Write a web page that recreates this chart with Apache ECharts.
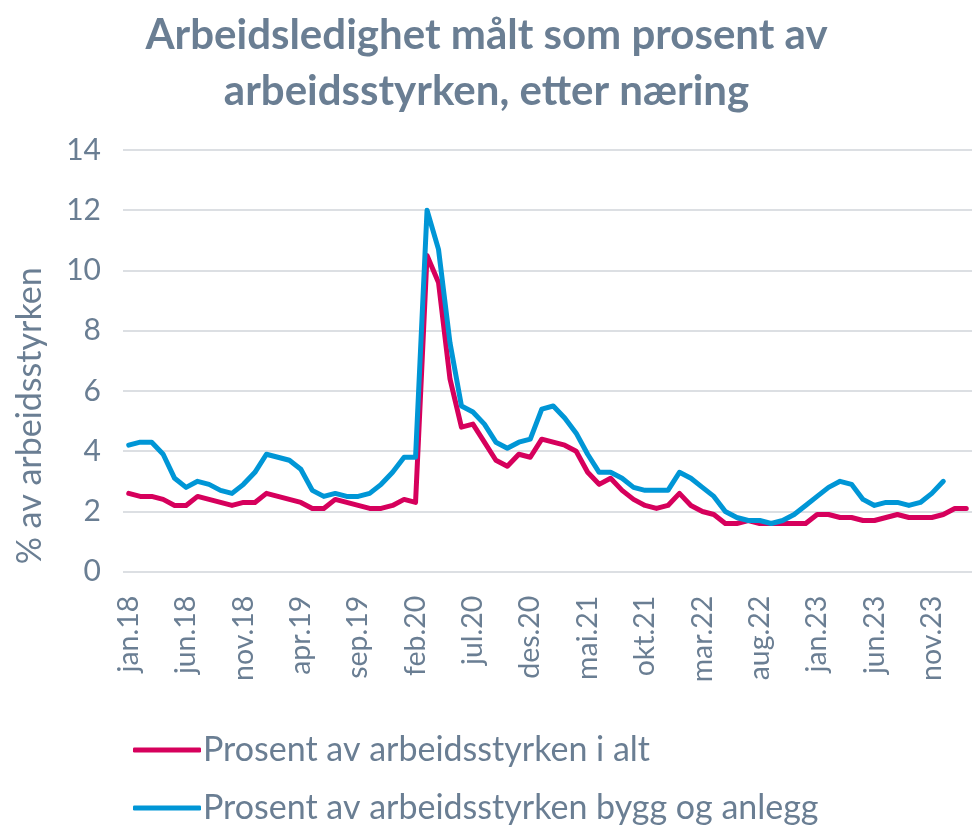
<!DOCTYPE html>
<html>
<head>
<meta charset="utf-8">
<script src="https://cdn.jsdelivr.net/npm/echarts@6/dist/echarts.min.js"></script>
<style>html,body{margin:0;padding:0;background:#fff;}#c{width:973px;height:830px;}</style>
</head>
<body>
<div id="c"></div>
<script>
const months = [
 'jan.18','feb.18','mar.18','apr.18','mai.18','jun.18','jul.18','aug.18','sep.18','okt.18','nov.18','des.18',
 'jan.19','feb.19','mar.19','apr.19','mai.19','jun.19','jul.19','aug.19','sep.19','okt.19','nov.19','des.19',
 'jan.20','feb.20','mar.20','apr.20','mai.20','jun.20','jul.20','aug.20','sep.20','okt.20','nov.20','des.20',
 'jan.21','feb.21','mar.21','apr.21','mai.21','jun.21','jul.21','aug.21','sep.21','okt.21','nov.21','des.21',
 'jan.22','feb.22','mar.22','apr.22','mai.22','jun.22','jul.22','aug.22','sep.22','okt.22','nov.22','des.22',
 'jan.23','feb.23','mar.23','apr.23','mai.23','jun.23','jul.23','aug.23','sep.23','okt.23','nov.23','des.23',
 'jan.24','feb.24'
];
const totalSeries = [
 2.6,2.5,2.5,2.4,2.2,2.2,2.5,2.4,2.3,2.2,2.3,2.3,
 2.6,2.5,2.4,2.3,2.1,2.1,2.4,2.3,2.2,2.1,2.1,2.2,
 2.4,2.3,10.5,9.6,6.4,4.8,4.9,4.3,3.7,3.5,3.9,3.8,
 4.4,4.3,4.2,4.0,3.3,2.9,3.1,2.7,2.4,2.2,2.1,2.2,
 2.6,2.2,2.0,1.9,1.6,1.6,1.7,1.6,1.6,1.6,1.6,1.6,
 1.9,1.9,1.8,1.8,1.7,1.7,1.8,1.9,1.8,1.8,1.8,1.9,
 2.1,2.1
];
const constructionSeries = [
 4.2,4.3,4.3,3.9,3.1,2.8,3.0,2.9,2.7,2.6,2.9,3.3,
 3.9,3.8,3.7,3.4,2.7,2.5,2.6,2.5,2.5,2.6,2.9,3.3,
 3.8,3.8,12.0,10.7,7.6,5.5,5.3,4.9,4.3,4.1,4.3,4.4,
 5.4,5.5,5.1,4.6,3.9,3.3,3.3,3.1,2.8,2.7,2.7,2.7,
 3.3,3.1,2.8,2.5,2.0,1.8,1.7,1.7,1.6,1.7,1.9,2.2,
 2.5,2.8,3.0,2.9,2.4,2.2,2.3,2.3,2.2,2.3,2.6,3.0
];
const seriesNames = ['Prosent av arbeidsstyrken i alt','Prosent av arbeidsstyrken bygg og anlegg'];
const titleText = 'Arbeidsledighet målt som prosent av\narbeidsstyrken, etter næring';
const yAxisName = '% av arbeidsstyrken';

const txt = '#6a7e93';
const FONT = 'Lato';
const chart = echarts.init(document.getElementById('c'), null, {renderer:'canvas'});
chart.setOption({
  animation:false,
  backgroundColor:'#fff',
  title:{
    text:titleText, left:'center', top:2,
    textStyle:{fontFamily:FONT, fontWeight:'bold', fontSize:42, lineHeight:56, color:txt}
  },
  grid:{left:123, right:1, top:150, bottom:258.3, containLabel:false},
  legend:{
    orient:'vertical', left:133, top:732, itemGap:22, padding:0,
    itemWidth:68, itemHeight:5, icon:'roundRect',
    textStyle:{fontFamily:FONT, fontSize:34, lineHeight:36, color:txt, padding:[0,0,0,-3]},
    data:seriesNames
  },
  xAxis:{
    type:'category', data:months, boundaryGap:true,
    axisLine:{show:false}, axisTick:{show:false},
    axisLabel:{interval:4, rotate:90, margin:24, fontFamily:FONT, fontSize:28.5, color:txt}
  },
  yAxis:{
    type:'value', min:0, max:14, interval:2,
    name:yAxisName, nameLocation:'middle', nameGap:76,
    nameTextStyle:{fontFamily:FONT, fontSize:34, color:txt, padding:[0,110,0,0]},
    axisLine:{show:false}, axisTick:{show:false},
    axisLabel:{margin:22, fontFamily:FONT, fontSize:30, color:txt},
    splitLine:{lineStyle:{color:'#dcdfe3', width:2}}
  },
  series:[
    {name:seriesNames[0], type:'line', data:totalSeries, showSymbol:false, symbol:'none',
     lineStyle:{color:'#d6005c', width:5, join:'round', cap:'round'}, itemStyle:{color:'#d6005c'}},
    {name:seriesNames[1], type:'line', data:constructionSeries, showSymbol:false, symbol:'none',
     lineStyle:{color:'#0096d6', width:5, join:'round', cap:'round'}, itemStyle:{color:'#0096d6'}}
  ]
});
</script>
</body>
</html>
